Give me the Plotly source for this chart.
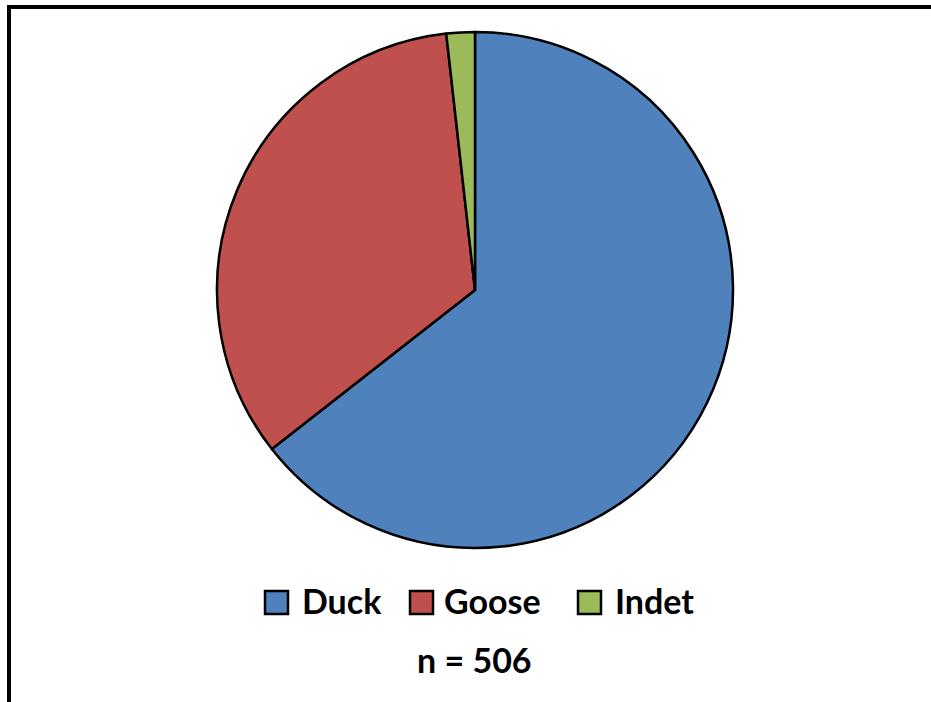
import plotly.graph_objects as go

categories = ["Duck", "Goose", "Indet"]
counts = [326, 171, 9]
colors = ["#4F81BD", "#C0504D", "#9BBB59"]
total_label = "n = 506"

W, H = 931, 702

def px(x):
    return x / W

def py(y):
    return 1 - y / H

cx, cy, r = 475, 290, 258
FONT = dict(family="Lato", size=34, color="black", weight="bold")

fig = go.Figure()
fig.add_trace(go.Pie(
    labels=categories,
    values=counts,
    marker=dict(colors=colors, line=dict(color="black", width=2.5)),
    sort=False,
    direction="clockwise",
    rotation=0,
    textinfo="none",
    hoverinfo="label+value+percent",
    showlegend=False,
    domain=dict(x=[px(cx - r), px(cx + r)], y=[py(cy + r), py(cy - r)]),
))

shapes = [
    dict(type="rect", xref="paper", yref="paper",
         x0=px(9), x1=px(W + 20), y0=py(H + 20), y1=py(7),
         line=dict(color="black", width=4), fillcolor="rgba(0,0,0,0)", layer="above"),
]
annotations = []

# legend layout (pixel positions of each item's square left edge and text left edge)
sq_left = [265, 410, 578]
txt_left = [300, 442, 613]
sq_top, sq_size = 591, 23
for i, name in enumerate(categories):
    shapes.append(dict(type="rect", xref="paper", yref="paper",
                       x0=px(sq_left[i]), x1=px(sq_left[i] + sq_size),
                       y0=py(sq_top + sq_size), y1=py(sq_top),
                       fillcolor=colors[i], line=dict(color="black", width=2.5)))
    annotations.append(dict(x=px(txt_left[i]), y=py(600), xref="paper", yref="paper",
                            text=name, showarrow=False, xanchor="left", yanchor="middle",
                            font=FONT))

annotations.append(dict(x=px(474), y=py(659), xref="paper", yref="paper",
                        text=total_label, showarrow=False, xanchor="center", yanchor="middle",
                        font=FONT))

fig.update_layout(
    width=W, height=H,
    margin=dict(l=0, r=0, t=0, b=0),
    paper_bgcolor="white",
    plot_bgcolor="white",
    shapes=shapes,
    annotations=annotations,
    showlegend=False,
)

fig.write_html("out.html", config={"displayModeBar": False},
               post_script="document.body.style.margin='0';document.body.style.overflow='hidden';")
